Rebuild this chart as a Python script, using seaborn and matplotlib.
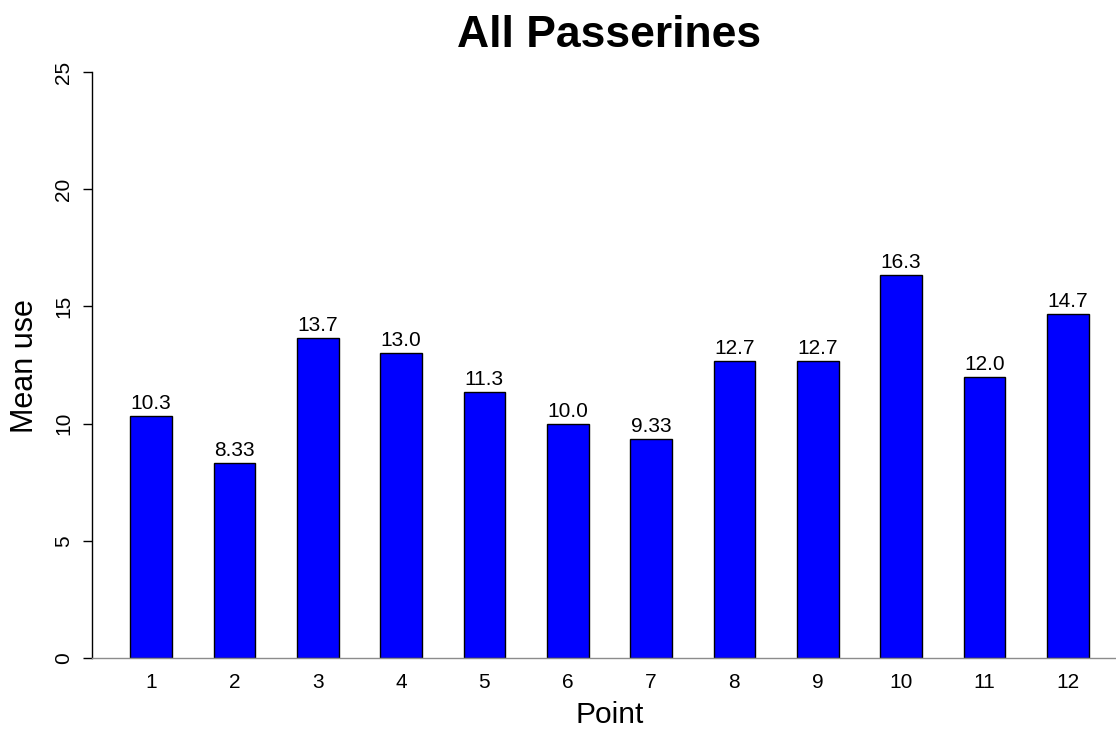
import matplotlib
matplotlib.use("Agg")
import matplotlib.pyplot as plt
import seaborn as sns
import pandas as pd

points = ["1", "2", "3", "4", "5", "6", "7", "8", "9", "10", "11", "12"]
mean_use = [10.333, 8.333, 13.667, 13.0, 11.333, 10.0, 9.333, 12.667, 12.667, 16.333, 12.0, 14.667]
bar_labels = ["10.3", "8.33", "13.7", "13.0", "11.3", "10.0", "9.33", "12.7", "12.7", "16.3", "12.0", "14.7"]
y_ticks = [0, 5, 10, 15, 20, 25]

sns.set_style("white")
plt.rcParams["font.family"] = ["Liberation Sans", "DejaVu Sans"]
plt.rcParams["text.color"] = "black"
plt.rcParams["axes.labelcolor"] = "black"
plt.rcParams["xtick.color"] = "black"
plt.rcParams["ytick.color"] = "black"

df = pd.DataFrame({"Point": points, "Mean use": mean_use})

W, H = 1116, 730
fig = plt.figure(figsize=(W / 100, H / 100), dpi=100)
ax = fig.add_axes([92 / W, (H - 658) / H, 1 - 92 / W, (658 - 72) / H])

sns.barplot(data=df, x="Point", y="Mean use", order=points, color="#0000FF",
            saturation=1, width=0.5, edgecolor="black", linewidth=1.0, ax=ax)

for i, (v, lab) in enumerate(zip(mean_use, bar_labels)):
    ax.annotate(lab, (i, v), xytext=(0, 5), textcoords="offset points",
                ha="center", va="baseline", fontsize=15, color="black")

ax.set_xlim(-0.71, 11.58)
ax.set_ylim(0, 25)
ax.set_yticks(y_ticks)
ax.set_yticklabels([str(t) for t in y_ticks], rotation=90, va="center", fontsize=15)
ax.tick_params(axis="y", left=True, length=6.5, width=1, pad=7, color="black")
ax.tick_params(axis="x", bottom=False, length=0, pad=11, labelsize=15)

for s in ["top", "right"]:
    ax.spines[s].set_visible(False)
ax.spines["left"].set_color("black")
ax.spines["left"].set_linewidth(1)
ax.spines["bottom"].set_color("#8c8c8c")
ax.spines["bottom"].set_linewidth(1)

ax.set_xlabel("")
ax.set_ylabel("")
fig.text(609.5 / W, 1 - 723 / H, "Point", ha="center", va="baseline", fontsize=21.5)
fig.text(33 / W, 1 - 366.5 / H, "Mean use", ha="center", va="baseline",
         rotation=90, rotation_mode="anchor", fontsize=22)
fig.text(609.5 / W, 1 - 47 / H, "All Passerines", ha="center", va="baseline",
         fontsize=32, fontweight="bold")

fig.savefig("out.png", dpi=100, facecolor="white")
